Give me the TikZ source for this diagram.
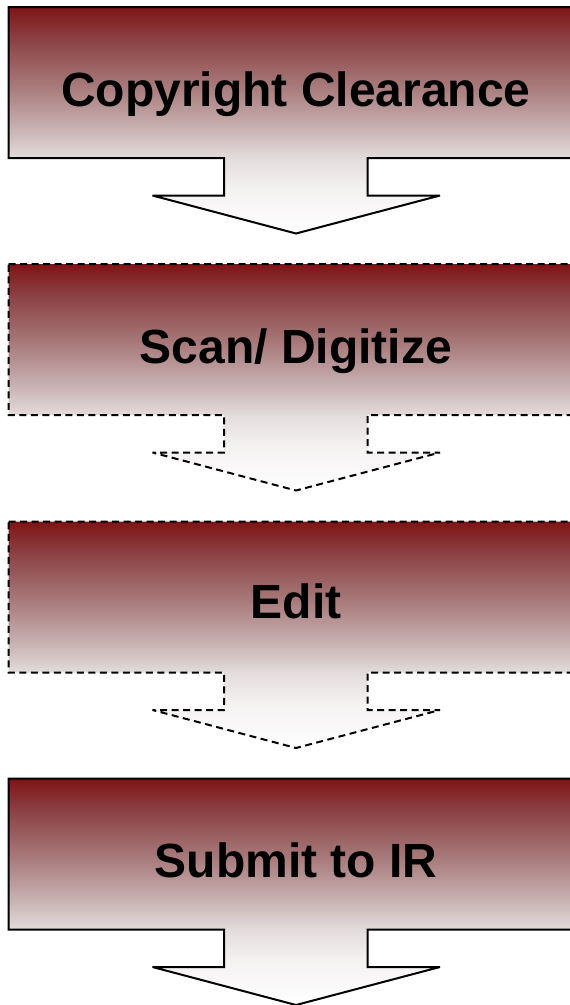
\documentclass[tikz,border=0pt]{standalone}
\usepackage{fontspec}
\setmainfont{Liberation Sans}
% vertical fade used by every callout: deep red at the top, white at the arrow tip
\definecolor{fadeTop}{RGB}{127,20,22}
\definecolor{fadeA}{RGB}{140,68,70}
\definecolor{fadeB}{RGB}{168,122,123}
\definecolor{fadeC}{RGB}{203,182,182}
\definecolor{fadeD}{RGB}{228,221,221}
\definecolor{fadeE}{RGB}{244,241,241}
\pgfdeclareverticalshading{calloutfade}{100bp}{%
  color(0bp)=(white);
  color(25bp)=(white);
  color(35bp)=(fadeE);
  color(41.5bp)=(fadeD);
  color(47.5bp)=(fadeC);
  color(57.5bp)=(fadeB);
  color(67.5bp)=(fadeA);
  color(75bp)=(fadeTop);
  color(100bp)=(fadeTop)}
\tikzset{
  callout/.style={draw=black, line width=2pt, line join=miter, miter limit=1.5, shading=calloutfade},
  solidedge/.style={},
  dashededge/.style={dash pattern=on 7pt off 4.5pt},
  steplabel/.style={anchor=base, font=\fontsize{48}{58}\selectfont\bfseries, text=black, inner sep=0pt}
}
% down-arrow callout whose top edge lies at #1
\newcommand\downcallout[2]{%
  \path[callout,#2] (8.5,#1) -- (583.5,#1) -- (583.5,#1+151) -- (367.5,#1+151)
    -- (367.5,#1+188.5) -- (440,#1+188.5) -- (296,#1+226.5) -- (152.5,#1+188.5)
    -- (224,#1+188.5) -- (224,#1+151) -- (8.5,#1+151) -- cycle;}
\begin{document}
\begin{tikzpicture}[x=1pt,y=-1pt]
  \useasboundingbox (0,0) rectangle (570,1005);
  \clip (0,0) rectangle (570,1005);
  \downcallout{7}{solidedge}
  \downcallout{264}{dashededge}
  \downcallout{521.5}{dashededge}
  \downcallout{778.5}{solidedge}
  \node[steplabel] (copyright) at (296,106) {Copyright Clearance};
  \node[steplabel] (scan) at (296,363) {Scan/ Digitize};
  \node[steplabel] (edit) at (296,618) {Edit};
  \node[steplabel] (submit) at (296,877) {Submit to IR};
\end{tikzpicture}
\end{document}
